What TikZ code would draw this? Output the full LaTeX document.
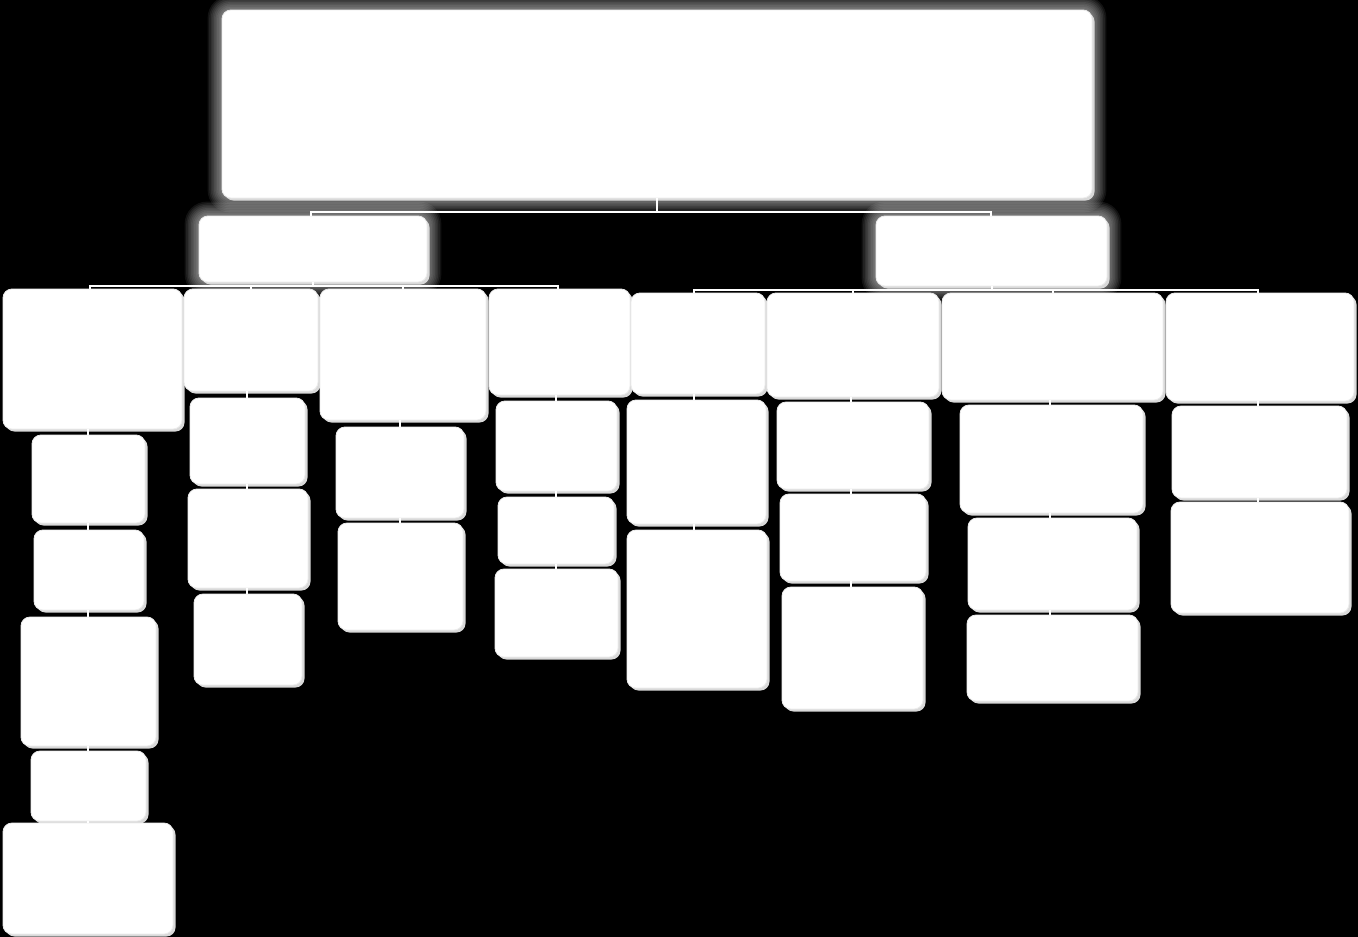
\documentclass[tikz,border=0pt]{standalone}
\usetikzlibrary{calc}
\tikzset{
  box/.style={draw=gray!15, line width=0.8pt, fill=white, rounded corners=9pt, inner sep=0pt, outer sep=0pt},
  wire/.style={draw=white, line width=2pt},
}
\newcommand\bx[5]{%
  \fill[gray!30, rounded corners=9pt] (#2+2.5,#3+2.5) rectangle (#4+2.5,#5+2.5);
  \node[box, minimum width=#4pt-#2pt, minimum height=#5pt-#3pt] (#1) at ({(#2+#4)/2},{(#3+#5)/2}) {};
}
\newcommand\glow[4]{%
  \foreach \g in {1,...,9}{
    \fill[white, opacity=0.07, rounded corners={9pt+\g*1.5pt}] (#1-\g*1.6,#2-\g*1.6) rectangle (#3+\g*1.6,#4+\g*1.6);
  }
}
\begin{document}
\begin{tikzpicture}[x=1pt,y=-1pt]
\fill[black] (0,0) rectangle (1358,937);
\useasboundingbox (0,0) rectangle (1358,937);
% glows
\glow{222}{10}{1092}{198}
\glow{199}{216}{427}{282}
\glow{876}{216}{1107}{286}
% top and level 2
\bx{top}{222}{10}{1092}{198}
\bx{la}{199}{216}{427}{282}
\bx{lb}{876}{216}{1107}{286}
% level 3 left
\bx{a1}{3}{289}{182}{429}
\bx{a2}{184}{289}{318}{391}
\bx{a3}{320}{289}{486}{420}
\bx{a4}{489}{289}{630}{395}
% level 3 right
\bx{b1}{631}{293}{765}{394}
\bx{b2}{767}{293}{939}{397}
\bx{b3}{942}{293}{1163}{400}
\bx{b4}{1166}{293}{1354}{401}
% column a1
\bx{a11}{32}{435}{145}{523}
\bx{a12}{34}{530}{144}{610}
\bx{a13}{21}{617}{156}{746}
\bx{a14}{31}{751}{146}{821}
\bx{a15}{3}{823}{173}{934}
% column a2
\bx{a21}{190}{398}{305}{484}
\bx{a22}{188}{489}{308}{588}
\bx{a23}{194}{594}{302}{685}
% column a3
\bx{a31}{336}{427}{464}{518}
\bx{a32}{338}{523}{463}{630}
% column a4
\bx{a41}{496}{401}{617}{491}
\bx{a42}{498}{497}{614}{564}
\bx{a43}{495}{569}{618}{657}
% column b1
\bx{b11}{627}{400}{766}{524}
\bx{b12}{627}{530}{767}{688}
% column b2
\bx{b21}{777}{402}{929}{489}
\bx{b22}{780}{494}{926}{581}
\bx{b23}{782}{587}{923}{709}
% column b3
\bx{b31}{960}{405}{1143}{513}
\bx{b32}{968}{518}{1137}{610}
\bx{b33}{967}{615}{1138}{701}
% column b4
\bx{b41}{1172}{406}{1347}{498}
\bx{b42}{1171}{502}{1349}{613}
% connectors top
\coordinate (j0) at ($(top.south)+(0,14)$);
\draw[wire] (top.south) -- (j0);
\draw[wire] (la.north -| 311,0) |- (j0) -| (lb.north -| 991,0);
% left bus
\coordinate (j1) at ($(la.south)+(0,4)$);
\draw[wire] (la.south) -- (j1);
\draw[wire] (a1.north -| 90,0) |- (j1) -| (a4.north -| 558,0);
\draw[wire] (a2.north) -- (a2.north |- j1);
\draw[wire] (a3.north) -- (a3.north |- j1);
% right bus
\coordinate (j2) at ($(lb.south)+(0,4)$);
\draw[wire] (lb.south) -- (j2);
\draw[wire] (b1.north -| 694,0) |- (j2) -| (b4.north -| 1258,0);
\draw[wire] (b2.north) -- (b2.north |- j2);
\draw[wire] (b3.north) -- (b3.north |- j2);
% column connectors
\draw[wire] (a1.south -| 88,0) -- (a11.north -| 88,0);
\draw[wire] (a11.south -| 88,0) -- (a12.north -| 88,0);
\draw[wire] (a12.south -| 88,0) -- (a13.north -| 88,0);
\draw[wire] (a13.south -| 88,0) -- (a14.north -| 88,0);
\draw[wire] (a14.south -| 88,0) -- (a15.north -| 88,0);
\draw[wire] (a2.south -| 247,0) -- (a21.north -| 247,0);
\draw[wire] (a21.south -| 247,0) -- (a22.north -| 247,0);
\draw[wire] (a22.south -| 247,0) -- (a23.north -| 247,0);
\draw[wire] (a3.south -| 400,0) -- (a31.north -| 400,0);
\draw[wire] (a31.south -| 400,0) -- (a32.north -| 400,0);
\draw[wire] (a4.south -| 556,0) -- (a41.north -| 556,0);
\draw[wire] (a41.south -| 556,0) -- (a42.north -| 556,0);
\draw[wire] (a42.south -| 556,0) -- (a43.north -| 556,0);
\draw[wire] (b1.south -| 694,0) -- (b11.north -| 694,0);
\draw[wire] (b11.south -| 694,0) -- (b12.north -| 694,0);
\draw[wire] (b2.south -| 851,0) -- (b21.north -| 851,0);
\draw[wire] (b21.south -| 851,0) -- (b22.north -| 851,0);
\draw[wire] (b22.south -| 851,0) -- (b23.north -| 851,0);
\draw[wire] (b3.south -| 1050,0) -- (b31.north -| 1050,0);
\draw[wire] (b31.south -| 1050,0) -- (b32.north -| 1050,0);
\draw[wire] (b32.south -| 1050,0) -- (b33.north -| 1050,0);
\draw[wire] (b4.south -| 1258,0) -- (b41.north -| 1258,0);
\draw[wire] (b41.south -| 1258,0) -- (b42.north -| 1258,0);
\end{tikzpicture}
\end{document}
